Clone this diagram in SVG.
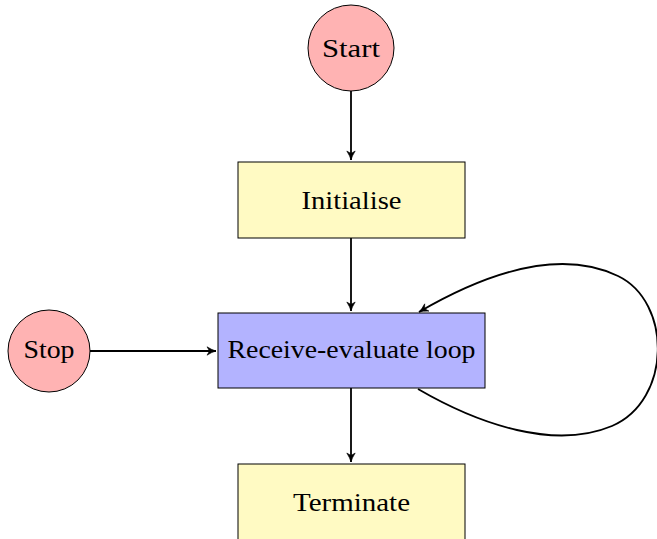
<svg xmlns="http://www.w3.org/2000/svg" width="657" height="539" viewBox="0 0 657 539">
  <style>
    .term { fill: #ffb3b3; stroke: #000; stroke-width: 1; }
    .proc { fill: #fffac3; stroke: #000; stroke-width: 1; }
    .loop { fill: #b3b3ff; stroke: #000; stroke-width: 1; }
    .lbl { font-family: "Liberation Serif", "Times New Roman", serif; font-size: 25px; fill: #000; text-anchor: middle; }
    .edge { fill: none; stroke: #000; stroke-width: 1.8; marker-end: url(#tip); }
  </style>
  <defs>
    <marker id="tip" markerUnits="userSpaceOnUse" markerWidth="12" markerHeight="12" viewBox="-10 -5 12 10" refX="0" refY="0" orient="auto">
      <path d="M-9,-4.2 Q-4,-1 0,0 Q-4,1 -9,4.2 L-6.5,0 Z" fill="#000" stroke="#000" stroke-width="0.6" stroke-linejoin="round"/>
    </marker>
  </defs>
  <rect width="657" height="539" fill="#fff"/>

  <g id="connectors">
    <path class="edge" d="M351,91 L351,160"/>
    <path class="edge" d="M351,238 L351,311"/>
    <path class="edge" d="M90,351 L216,351"/>
    <path class="edge" d="M351,388 L351,462"/>
    <path class="edge" d="M418,389 C480,425 555,450 612,426 C672,400 672,302 618,276 C568,252 500,265 419,312"/>
  </g>

  <g id="start">
    <circle class="term" cx="351" cy="48" r="43"/>
    <text class="lbl" x="351" y="57" textLength="58" lengthAdjust="spacingAndGlyphs">Start</text>
  </g>
  <g id="initialise">
    <rect class="proc" x="238" y="162" width="227" height="76"/>
    <text class="lbl" x="351.5" y="209" textLength="100" lengthAdjust="spacingAndGlyphs">Initialise</text>
  </g>
  <g id="receive-evaluate-loop">
    <rect class="loop" x="218" y="313" width="267" height="75"/>
    <text class="lbl" x="351.5" y="358" textLength="248" lengthAdjust="spacingAndGlyphs">Receive-evaluate loop</text>
  </g>
  <g id="stop">
    <circle class="term" cx="49" cy="351" r="41"/>
    <text class="lbl" x="49" y="358" textLength="51" lengthAdjust="spacingAndGlyphs">Stop</text>
  </g>
  <g id="terminate">
    <rect class="proc" x="238" y="464" width="227" height="80"/>
    <text class="lbl" x="351.5" y="511" textLength="117" lengthAdjust="spacingAndGlyphs">Terminate</text>
  </g>
</svg>
